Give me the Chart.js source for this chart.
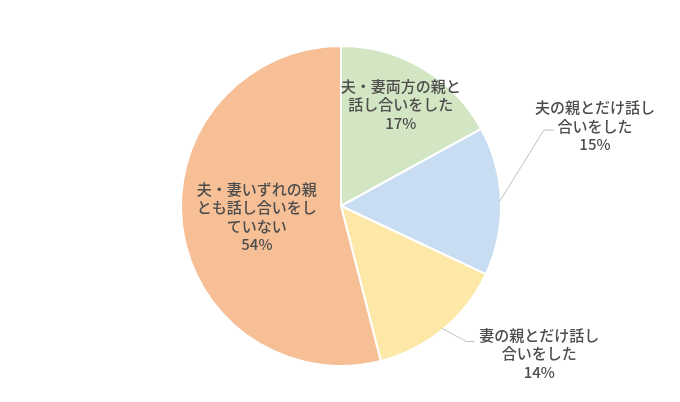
<!DOCTYPE html>
<html lang="ja">
<head>
<meta charset="UTF-8">
<title>親との話し合い</title>
<script src="https://cdn.jsdelivr.net/npm/chart.js"></script>
<style>
  html, body { margin: 0; padding: 0; background: #fff; }
  #wrap { width: 680px; height: 402px; }
</style>
</head>
<body>
<div id="wrap"><canvas id="myChart"></canvas></div>
<script>
// データ
const labels = [
  ['夫・妻両方の親と', '話し合いをした'],
  ['夫の親とだけ話し', '合いをした'],
  ['妻の親とだけ話し', '合いをした'],
  ['夫・妻いずれの親', 'とも話し合いをし', 'ていない']
];
const values = [17, 15, 14, 54];
const colors = ['#d3e6c4', '#c8ddf1', '#fde8a8', '#f6bf96'];

// ラベルの置き方 (inside: 半径比 / outside: 引き出し線の折れ点と文字位置)
const labelPlace = [
  { inside: true, r: 0.735 },
  { inside: false, elbow: [44, -71], tail: 10, text: [51, -4] },
  { inside: false, elbow: [24, 13], tail: 8, text: [73, 12] },
  { inside: true, r: 0.53 }
];

const textColor = '#4d4d4d';
const font = '500 15px "Noto Sans CJK JP", "Noto Sans", sans-serif';
const lineH = 18.5;

const labelPlugin = {
  id: 'sliceLabels',
  afterDatasetsDraw(chart) {
    const ctx = chart.ctx;
    const arcs = chart.getDatasetMeta(0).data;
    ctx.save();
    ctx.font = font;
    ctx.fillStyle = textColor;
    ctx.textAlign = 'center';
    ctx.textBaseline = 'middle';
    arcs.forEach(function (arc, i) {
      const p = arc.getProps(['x', 'y', 'startAngle', 'endAngle', 'outerRadius']);
      const mid = (p.startAngle + p.endAngle) / 2;
      const lines = labels[i].concat([values[i] + '%']);
      const place = labelPlace[i];
      let cx, cy;
      if (place.inside) {
        cx = p.x + Math.cos(mid) * p.outerRadius * place.r;
        cy = p.y + Math.sin(mid) * p.outerRadius * place.r;
      } else {
        const ex = p.x + Math.cos(mid) * (p.outerRadius - 1);
        const ey = p.y + Math.sin(mid) * (p.outerRadius - 1);
        const bx = ex + place.elbow[0];
        const by = ey + place.elbow[1];
        ctx.strokeStyle = '#bfbfbf';
        ctx.lineWidth = 1;
        ctx.beginPath();
        ctx.moveTo(ex, ey);
        ctx.lineTo(bx, by);
        ctx.lineTo(bx + place.tail, by);
        ctx.stroke();
        cx = bx + place.text[0];
        cy = by + place.text[1];
      }
      const top = cy - (lines.length - 1) * lineH / 2;
      lines.forEach(function (t, k) {
        ctx.fillText(t, cx, top + k * lineH);
      });
    });
    ctx.restore();
  }
};

new Chart(document.getElementById('myChart'), {
  type: 'pie',
  data: {
    labels: labels,
    datasets: [{
      data: values,
      backgroundColor: colors,
      borderColor: '#ffffff',
      borderWidth: 2
    }]
  },
  options: {
    responsive: true,
    maintainAspectRatio: false,
    animation: false,
    layout: { padding: { top: 45, bottom: 35, left: 21, right: 19 } },
    plugins: {
      legend: { display: false },
      tooltip: { enabled: false }
    }
  },
  plugins: [labelPlugin]
});
</script>
</body>
</html>
